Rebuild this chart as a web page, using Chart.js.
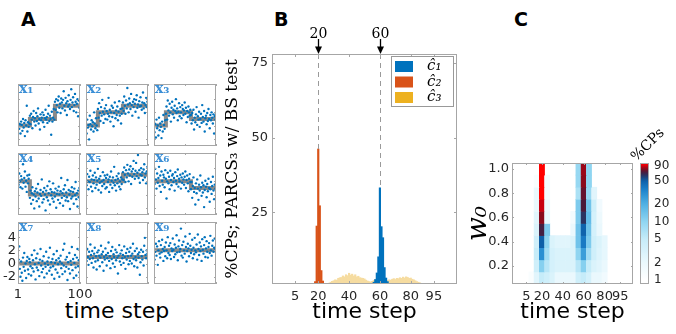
<!DOCTYPE html>
<html>
<head>
<meta charset="utf-8">
<title>change points</title>
<script src="https://cdn.jsdelivr.net/npm/chart.js@4.4.1/dist/chart.umd.min.js"></script>
<style>
  html, body { margin: 0; padding: 0; background: #fff; }
  body { position: relative; width: 676px; height: 334px; overflow: hidden; }
  canvas { position: absolute; }
  .tag { position: absolute; font: bold 19px "DejaVu Sans", sans-serif; color: #000; }
  .xtitle { position: absolute; width: 200px; text-align: center; font: 22px "DejaVu Sans", sans-serif; line-height: 26px; color: #000; }
</style>
</head>
<body>
<div class="tag" style="left:21px; top:8px">A</div>
<div class="tag" style="left:274px; top:8px">B</div>
<div class="tag" style="left:514px; top:8px">C</div>
<div class="xtitle" style="left:17px; top:298px">time step</div>
<script>
// ---------- panel A : observed series x1..x9 (time steps 1..100)
const x1Obs = [
  2.1, 0.3, -0.5, 0.2, -1.2, 0.6, 0.1, -0.8, 1.0, -0.3,
  0.4, -1.6, 0.8, 0.0, 3.0, -0.9, 0.5, -0.2, 0.3, 1.5,
  0.2, 1.8, 0.9, -0.4, 1.3, 2.2, 0.6, 1.1, 0.0, 1.9,
  0.7, 1.4, 2.6, 0.3, 1.0, -0.6, 1.7, 0.8, 1.2, 2.0,
  0.5, 1.6, -0.2, 1.1, 2.4, 0.9, 1.3, 0.4, 1.8, 3.0,
  0.7, 1.5, 1.0, -1.4, 2.1, 0.6, 1.2, 2.5, 0.9, 3.6,
  2.4, 4.0, 3.1, 2.0, 3.8, 4.4, 2.7, 3.3, 1.9, 4.1,
  3.5, 2.6, 3.9, 5.2, 3.0, 2.3, 4.2, 3.4, 1.6, 3.7,
  2.9, 4.6, 3.2, 2.5, 3.9, 5.5, 2.8, 3.5, 4.3, 2.2,
  3.1, 4.8, 3.6, 2.0, 3.3, 4.0, 1.4, 3.8, 2.7, 3.4];
const x2Obs = [
  0.4, -1.2, 0.9, -0.3, 0.1, -2.1, 1.5, 0.2, -0.6, 0.8,
  -0.1, 0.5, -0.9, 2.0, 0.3, -0.4, 1.1, 0.0, -0.7, 2.5,
  1.2, 3.4, 1.9, 0.7, 2.8, 1.5, 3.9, 2.1, 0.4, 1.7,
  2.6, 1.0, 3.1, 2.2, 0.9, 1.8, 4.2, 1.4, 2.4, 0.6,
  2.0, 3.0, 1.3, 2.7, -0.1, 1.9, 3.5, 1.1, 2.3, 1.6,
  2.9, 0.8, 2.1, 3.7, 1.5, 2.5, 0.3, 1.8, 2.6, 3.5,
  2.2, 4.4, 3.0, 1.8, 3.8, 2.6, 5.7, 3.2, 2.0, 4.1,
  3.4, 2.5, 4.8, 3.1, 1.5, 3.6, 2.8, 4.0, 3.3, 2.1,
  3.9, 4.6, 2.7, 3.2, 1.2, 3.7, 2.9, 4.3, 3.0, 2.4,
  3.5, 5.0, 2.6, 3.4, 1.9, 3.1, 4.2, 2.8, 3.6, 3.0];
const x3Obs = [
  0.5, -1.0, 0.2, -1.8, 0.9, -0.4, 0.0, -1.5, 1.2, -0.7,
  0.3, -0.2, -1.9, 0.6, -0.9, 1.6, 0.1, -0.5, 0.8, 1.8,
  2.9, 0.9, 3.8, 2.3, 1.5, 3.3, 2.0, 0.6, 2.7, 3.6,
  1.7, 2.4, 1.2, 3.0, 2.2, 4.0, 1.9, 2.6, 0.8, 2.1,
  3.4, 1.4, 2.8, 2.0, 1.1, 3.1, 2.5, 1.6, 2.3, 3.5,
  1.8, 2.7, 0.5, 2.2, 1.3, 2.9, 2.0, 1.5, 2.4, 1.6,
  0.3, 1.9, 0.8, 2.4, -0.6, 1.2, 0.5, 1.7, 2.8, 0.1,
  1.4, 0.9, 2.1, -0.2, 1.0, 1.8, 0.4, 3.1, 1.3, 0.6,
  2.2, -0.9, 1.1, 1.5, 0.2, 1.9, 0.7, 2.5, 1.0, -0.4,
  1.6, 0.8, 2.0, 1.2, 0.3, 1.7, -1.2, 1.4, 0.9, 1.8];
const x4Obs = [
  2.6, 1.5, 3.2, 2.0, 1.1, 2.8, 2.3, 0.9, 4.6, 1.8,
  2.5, 3.5, 1.2, 2.1, 0.4, 2.9, 1.7, 2.4, 3.0, -0.5,
  0.6, -1.4, 0.2, 1.1, -0.8, 0.0, -2.1, 0.5, -0.3, 0.9,
  -1.0, 0.3, 1.6, -0.6, -1.8, 0.1, 0.7, -0.2, 2.3, -1.2,
  0.4, -0.7, 1.0, 0.0, -2.4, 0.6, -0.4, 1.3, -0.9, 0.2,
  2.0, -1.5, 0.8, -0.1, 0.4, -0.6, 1.7, -1.1, 0.3, -0.3,
  0.9, -2.0, 0.1, 0.6, -0.8, 1.2, 0.0, -1.3, 0.5, 2.5,
  -0.5, 0.2, -1.7, 0.8, -0.2, 1.4, -0.9, 0.3, -0.4, 2.2,
  -1.0, 0.7, 0.0, -2.2, 0.5, -0.6, 1.1, -0.3, 0.4, -1.4,
  0.9, -0.1, 1.9, -0.7, 0.2, -1.8, 0.6, -0.4, 1.0, -0.9];
const x5Obs = [
  2.5, 1.4, 3.1, 2.0, 0.8, 2.7, 1.9, 3.6, 1.2, 2.3,
  0.5, 2.9, 1.7, 2.2, 3.3, 1.0, 2.6, 1.5, 2.1, 3.9,
  0.7, 2.4, 1.8, 2.8, 0.3, 2.0, 1.3, 3.4, 2.2, 1.6,
  2.9, 0.9, 2.5, 1.1, 3.0, 1.9, 2.3, 0.4, 2.7, 1.5,
  3.5, 2.1, 1.0, 2.6, 1.8, 4.2, 1.4, 2.2, 0.6, 2.8,
  1.7, 2.4, 3.2, 1.2, 2.0, 0.8, 2.6, 1.6, 2.3, 3.4,
  2.2, 4.1, 3.0, 1.9, 3.7, 2.6, 4.5, 3.2, 2.0, 3.8,
  2.9, 4.3, 1.6, 3.5, 2.7, 3.9, 5.1, 3.1, 2.4, 3.6,
  4.8, 2.8, 3.3, 6.0, 2.5, 3.7, 1.8, 3.0, 4.0, 2.9,
  3.4, 2.2, 3.8, 4.6, 2.6, 3.2, 1.7, 3.5, 4.2, 3.6];
const x6Obs = [
  2.8, 1.6, 3.9, 2.3, 0.9, 3.2, 1.8, 2.5, 4.2, 1.3,
  2.9, 0.4, 3.5, 2.1, 1.5, 3.0, 2.6, 1.1, 3.7, 2.4,
  -0.6, 2.0, 3.3, 1.7, 2.7, 0.8, 3.6, 2.2, 1.4, 2.9,
  3.1, 1.9, 2.5, 0.6, 3.4, 2.1, 1.6, 2.8, 3.8, 1.2,
  2.4, 2.0, 3.0, 0.9, 2.6, 1.8, 3.2, 2.3, 1.5, 2.7,
  3.5, 1.0, 2.2, 2.9, 1.7, 0.5, 2.4, 3.1, 1.9, 0.8,
  1.9, -0.5, 1.3, 2.6, 0.4, 1.0, -1.5, 1.7, 0.2, 2.3,
  0.9, -0.8, 1.5, 0.6, 2.9, 1.1, -0.2, 1.8, 0.3, 1.4,
  -1.9, 0.7, 2.1, 1.2, -0.4, 1.6, 0.5, 2.4, 1.0, -1.1,
  0.8, 1.9, 0.1, 1.3, 2.7, 0.6, -0.7, 1.5, 0.9, 2.0];
const x7Obs = [
  1.2, 0.6, 2.6, -0.8, -2.0, 0.3, -1.4, -2.6, 0.9, -0.5,
  1.6, -1.1, 0.0, -2.2, 0.4, 1.0, -0.9, -1.6, 0.7, 0.2,
  -0.4, -1.8, 1.3, -0.7, 0.5, -1.2, 2.0, -0.1, -2.4, 0.8,
  -0.6, 1.5, -1.0, 0.1, -1.9, 0.6, 2.2, -0.3, -1.3, 0.4,
  -0.8, 1.1, -2.1, 0.0, -0.5, 1.8, -1.5, 0.3, -0.2, 0.9,
  -1.1, 2.4, -0.6, 0.2, -1.7, 0.7, -0.4, 1.4, -2.3, 0.1,
  -0.9, 0.5, 1.9, -1.4, -0.1, 0.8, -2.0, 0.3, 1.2, -0.7,
  0.0, -1.6, 2.1, -0.3, 3.0, -1.2, 0.6, -0.5, 1.0, -2.5,
  0.2, -0.8, 1.6, -1.5, 0.4, -0.2, 2.5, -1.0, 0.7, -2.2,
  0.1, 1.3, -0.6, -1.8, 0.9, 2.2, -0.4, 0.5, -1.3, 0.0];
const x8Obs = [
  1.6, 0.4, 2.2, 1.0, -0.2, 1.8, 0.7, 2.9, 1.3, 0.1,
  1.9, 0.8, -0.6, 1.5, 2.4, 0.3, 1.1, -0.9, 1.7, 0.5,
  2.0, 1.2, -0.4, 0.9, 2.7, 1.4, 0.2, 1.8, -1.1, 1.0,
  0.6, 2.3, 1.3, -0.3, 0.8, 1.6, 3.2, 0.4, 1.1, -0.7,
  1.9, 0.7, 2.5, 0.0, 1.4, 1.0, -0.5, 2.1, 0.5, 1.7,
  0.9, -1.5, 1.2, 2.8, 0.3, 1.5, -0.2, 2.0, 0.8, 1.3,
  0.1, 2.6, 1.0, -0.8, 1.6, 0.6, 2.2, 1.1, -0.1, 1.8,
  0.4, 2.4, 1.2, 0.0, 1.5, 3.0, 0.7, -0.4, 1.9, 1.0,
  0.5, 2.3, -0.6, 1.4, 0.9, 1.7, -1.7, 0.2, 2.1, 1.1,
  0.6, 1.8, -0.3, 2.7, 3.9, 1.3, 0.8, 2.0, 1.5, 1.0];
const x9Obs = [
  2.4, 0.6, 1.8, 3.0, 1.2, 2.6, -0.2, 2.0, 3.4, 1.5,
  0.9, 2.8, 1.7, 3.6, 2.2, 0.4, 1.9, 2.5, 1.1, 3.2,
  2.0, 0.8, 4.0, 1.6, 2.7, 1.3, 3.1, 0.7, 2.3, 1.9,
  3.8, 2.1, 1.0, 2.9, 1.4, 2.4, 4.3, 1.7, 0.5, 2.6,
  3.5, 1.8, 2.2, 5.3, 1.2, 2.8, 0.9, 3.3, 2.0, 1.5,
  4.1, 2.5, 0.3, 1.9, 3.0, 2.3, 1.1, 4.5, 2.7, 1.6,
  2.1, 3.6, 0.8, 2.4, 1.4, 3.9, 2.0, 1.7, 2.9, 0.6,
  4.4, 2.2, 1.3, 3.2, 1.9, 2.6, 0.4, 3.7, 2.1, 1.5,
  2.8, 4.0, 1.0, 2.3, 3.4, 1.8, 0.9, 2.5, 3.1, 1.6,
  4.2, 2.0, 1.2, 2.7, 3.5, 1.8, 2.4, 3.8, 2.2, 1.9];

// true means: segments start at 1, 20, 60 and end at 100
const stepTimes = [1, 20, 60, 100];
const x1Steps = [0, 1, 3];
const x2Steps = [0, 2, 3];
const x3Steps = [0, 2, 1];
const x4Steps = [2, 0, 0];
const x5Steps = [2, 2, 3];
const x6Steps = [2, 2, 1];
const x7Steps = [0, 0, 0];
const x8Steps = [1, 1, 1];
const x9Steps = [2, 2, 2];
const seriesNames = ['x₁', 'x₂', 'x₃', 'x₄', 'x₅', 'x₆', 'x₇', 'x₈', 'x₉'];
const obsSeries = [x1Obs, x2Obs, x3Obs, x4Obs, x5Obs, x6Obs, x7Obs, x8Obs, x9Obs];
const stepSeries = [x1Steps, x2Steps, x3Steps, x4Steps, x5Steps, x6Steps, x7Steps, x8Steps, x9Steps];
const aTicksX = [1, 50, 100];
const aTicksY = [-2, 0, 2, 4];

// ---------- panel B : % of detected change points per time step
const c1Times = [55, 56, 57, 58, 59, 60, 61, 62, 63, 64, 65, 66];
const c1Pct   = [1.0, 1.6, 2.5, 4.7, 10.1, 33.2, 20.2, 16.5, 6.5, 3.0, 1.8, 1.2];
const c2Times = [17, 18, 19, 20, 21, 22, 23, 24];
const c2Pct   = [0.5, 1.8, 20.4, 46.2, 27.2, 5.5, 2.0, 1.0];
const c3Times = [24, 25, 26, 27, 28, 29, 30, 31, 32, 33, 34, 35, 36, 37, 38, 39, 40, 41, 42, 43, 44, 45,
  46, 47, 48, 49, 50, 51, 52, 53, 54, 55, 56, 57, 58, 59, 60, 61, 62, 63, 64, 65, 66, 67,
  68, 69, 70, 71, 72, 73, 74, 75, 76, 77, 78, 79, 80, 81, 82, 83, 84, 85, 86, 87, 88, 89, 90];
const c3Pct = [0.5, 0.8, 1.0, 1.3, 1.6, 1.9, 2.1, 2.4, 2.3, 2.9, 3.1, 3.2, 3.7, 3.4, 4.1, 3.8, 4.6, 4.0, 4.3, 3.7, 4.1, 3.4,
  3.6, 3.1, 3.0, 2.9, 2.7, 2.3, 2.0, 1.8, 1.7, 1.9, 2.2, 2.5, 2.8, 3.0, 3.1, 3.0, 2.8, 2.5, 2.1, 2.2, 2.4, 2.3,
  2.6, 2.8, 2.5, 2.9, 2.8, 3.1, 2.9, 3.3, 3.0, 3.4, 3.2, 2.9, 3.0, 2.6, 2.4, 2.1, 1.8, 1.6, 1.4, 1.2, 1.0, 0.8, 0.5];
const markTimes = [20, 60];
const timeTicks = [5, 20, 40, 60, 80, 95];
const bTicksY = [25, 50, 75];

// ---------- panel C : % CPs per (time step, w0)
const heatTimes = [5, 10, 15, 20, 25, 30, 35, 40, 45, 50, 55, 60, 65, 70, 75, 80, 85, 90, 95];
const heatW0 = [0.1, 0.2, 0.3, 0.4, 0.5, 0.6, 0.7, 0.8, 0.9, 1.0];
const heatPct = [
  [0, 1.2, 2.5, 5, 4, 3, 2, 2, 2, 2, 4, 5, 3.5, 2, 2, 1.6, 0, 0, 0],
  [0, 0, 4, 11, 6, 3.5, 3, 3, 3, 3, 6, 11, 5, 3, 2.5, 2, 0, 0, 0],
  [0, 0, 5, 30, 8, 3.5, 3, 3, 3, 3, 10, 25, 8, 4, 2.8, 2.2, 0, 0, 0],
  [0, 0, 4, 50, 10, 3, 2.5, 2.5, 2.5, 3, 14, 38, 12, 4, 3, 2.2, 0, 0, 0],
  [0, 0, 3, 68, 12, 0, 0, 0, 0, 2, 14, 48, 14, 3.5, 2, 0, 0, 0, 0],
  [0, 0, 2.5, 80, 2, 0, 0, 0, 0, 1.5, 12, 62, 16, 3.5, 1.8, 0, 0, 0, 0],
  [0, 0, 2, 88, 1.8, 0, 0, 0, 0, 0, 12, 70, 14, 4, 1.6, 0, 0, 0, 0],
  [0, 0, 2, 95, 1.5, 0, 0, 0, 0, 0, 7, 74, 9, 2.5, 0, 0, 0, 0, 0],
  [0, 0, 1.2, 95, 1.5, 0, 0, 0, 0, 0, 9, 80, 10, 0, 0, 0, 0, 0, 0],
  [0, 0, 0, 95, 0, 0, 0, 0, 0, 0, 9, 82, 10, 0, 0, 0, 0, 0, 0]];
const cTicksY = [0.2, 0.4, 0.6, 0.8, 1.0];
const cbTicks = [1, 2, 5, 10, 20, 50, 90];
const cbRange = [0.855, 100];

// colour map of the heat map (white -> light blue -> blue -> dark -> red)
const cmapStops = [[1, '#ffffff'], [2, '#eaf8fd'], [5, '#c6ecf9'], [10, '#8fd5f1'], [20, '#4fb0e3'],
  [35, '#1c82cb'], [50, '#0d5fa8'], [60, '#23386a'], [70, '#4a1a3a'], [80, '#8a0a1c'],
  [88, '#c80010'], [95, '#ff0000'], [100, '#ff0000']];

function hexRgb(h) {
  const n = parseInt(h.slice(1), 16);
  return [n >> 16, (n >> 8) & 255, n & 255];
}
function cmap(v) {
  if (v <= cmapStops[0][0]) return cmapStops[0][1];
  for (let i = 1; i < cmapStops.length; i++) {
    if (v <= cmapStops[i][0]) {
      const [v0, c0] = cmapStops[i - 1], [v1, c1] = cmapStops[i];
      const f = (Math.log(v) - Math.log(v0)) / (Math.log(v1) - Math.log(v0));
      const a = hexRgb(c0), b = hexRgb(c1);
      return 'rgb(' + a.map((x, k) => Math.round(x + (b[k] - x) * f)).join(',') + ')';
    }
  }
  return cmapStops[cmapStops.length - 1][1];
}

Chart.defaults.font.family = '"DejaVu Sans", sans-serif';
Chart.defaults.color = '#262626';

// box round the plot area with small inward ticks (matlab look)
const frameTicks = {
  id: 'frameTicks',
  afterDatasetsDraw(chart, args, o) {
    const {ctx, chartArea: a} = chart;
    ctx.save();
    ctx.strokeStyle = o.color || '#a0a0a0';
    ctx.lineWidth = 1;
    ctx.beginPath();
    const len = o.len || 3;
    ['x', 'y'].forEach(id => {
      const s = chart.scales[id];
      if (!s || s.type === 'category' || o.noTicks) return;
      s.ticks.forEach(t => {
        const p = Math.round(s.getPixelForValue(t.value)) + 0.5;
        if (id === 'x') {
          ctx.moveTo(p, a.bottom); ctx.lineTo(p, a.bottom - len);
          ctx.moveTo(p, a.top); ctx.lineTo(p, a.top + len);
        } else {
          ctx.moveTo(a.left, p); ctx.lineTo(a.left + len, p);
          ctx.moveTo(a.right, p); ctx.lineTo(a.right - len, p);
        }
      });
    });
    ctx.stroke();
    ctx.strokeRect(Math.round(a.left) + 0.5, Math.round(a.top) + 0.5, Math.round(a.width) - 1, Math.round(a.height) - 1);
    ctx.restore();
  }
};

const seriesTag = {
  id: 'seriesTag',
  afterDraw(chart, args, o) {
    const {ctx, chartArea: a} = chart;
    ctx.save();
    ctx.fillStyle = '#3b8fd6';
    ctx.font = 'bold 14px "DejaVu Serif"';
    ctx.textBaseline = 'alphabetic';
    ctx.fillText(o.text, a.left + 1, a.top + 9);
    ctx.restore();
  }
};

function fixBox(size, horiz) {
  return s => {
    if (horiz) s.height = size; else s.width = size;
    s.paddingLeft = s.paddingRight = s.paddingTop = s.paddingBottom = 0;
  };
}

function addCanvas(left, top, w, h) {
  const cv = document.createElement('canvas');
  cv.width = w; cv.height = h;
  cv.style.left = left + 'px';
  cv.style.top = top + 'px';
  document.body.appendChild(cv);
  return cv;
}

// ---------- panel A
const colLeft = [18, 86, 154], rowTop = [84, 153, 222], cellSize = 62;

function drawSeries(k) {
  const r = Math.floor(k / 3), c = k % 3;
  const padL = 30, padR = 16, padT = 4, padB = 20;
  const cv = addCanvas(colLeft[c] - padL, rowTop[r] - padT, padL + cellSize + padR, padT + cellSize + padB);
  const labelled = k === 6;
  const levels = stepSeries[k];
  new Chart(cv, {
    type: 'scatter',
    data: {
      datasets: [
        {
          type: 'line',
          data: stepTimes.map((t, i) => ({x: t, y: levels[Math.min(i, levels.length - 1)]})),
          stepped: 'before',
          borderColor: '#8a8a8a',
          borderWidth: 4,
          pointRadius: 0,
          order: 1
        },
        {
          data: obsSeries[k].map((v, i) => ({x: i + 1, y: v})),
          pointRadius: 1.2,
          pointBackgroundColor: '#0072BD',
          pointBorderWidth: 0,
          order: 0
        }
      ]
    },
    options: {
      responsive: false,
      animation: false,
      devicePixelRatio: 1,
      layout: {padding: {top: padT, right: padR}},
      plugins: {
        legend: {display: false},
        tooltip: {enabled: false},
        frameTicks: {color: '#a6a6a6', len: 2},
        seriesTag: {text: seriesNames[k]}
      },
      scales: {
        x: {
          type: 'linear', min: 1, max: 100,
          afterBuildTicks: s => { s.ticks = aTicksX.map(v => ({value: v})); },
          afterFit: fixBox(padB, true),
          grid: {display: false, drawTicks: false},
          border: {display: false},
          ticks: {display: labelled, padding: 3, font: {size: 13}, maxRotation: 0, autoSkip: false,
                  callback: v => (v === 50 ? '' : v)}
        },
        y: {
          min: -3.1, max: 6.3,
          afterBuildTicks: s => { s.ticks = aTicksY.map(v => ({value: v})); },
          afterFit: fixBox(padL, false),
          grid: {display: false, drawTicks: false},
          border: {display: false},
          ticks: {display: labelled, padding: 2, font: {size: 13}}
        }
      }
    },
    plugins: [frameTicks, seriesTag]
  });
}
for (let k = 0; k < 9; k++) drawSeries(k);

// ---------- panel B
const bMarks = {
  id: 'bMarks',
  afterDatasetsDraw(chart) {
    const {ctx, chartArea: a, scales: {x, y}} = chart;
    ctx.save();
    markTimes.forEach(t => {
      const px = Math.round(x.getPixelForValue(t)) + 0.5;
      let peak = 0;
      chart.data.datasets.forEach(ds => ds.data.forEach(p => { if (p.x === t) peak = Math.max(peak, p.y); }));
      ctx.strokeStyle = '#9a9a9a';
      ctx.lineWidth = 1;
      ctx.setLineDash([5, 4]);
      ctx.beginPath();
      ctx.moveTo(px, a.top);
      ctx.lineTo(px, y.getPixelForValue(peak));
      ctx.stroke();
      ctx.setLineDash([]);
      ctx.strokeStyle = '#000';
      ctx.lineWidth = 1.3;
      ctx.beginPath();
      ctx.moveTo(px, a.top - 15);
      ctx.lineTo(px, a.top - 6);
      ctx.stroke();
      ctx.fillStyle = '#000';
      ctx.beginPath();
      ctx.moveTo(px - 3.5, a.top - 7.5);
      ctx.lineTo(px + 3.5, a.top - 7.5);
      ctx.lineTo(px, a.top);
      ctx.closePath();
      ctx.fill();
      ctx.font = '14px "DejaVu Serif"';
      ctx.textAlign = 'center';
      ctx.textBaseline = 'middle';
      ctx.fillText(String(t), px, a.top - 20);
    });
    ctx.restore();
  }
};

const bLegend = {
  id: 'bLegend',
  afterDatasetsDraw(chart) {
    const {ctx, chartArea: a} = chart;
    const w = 63, h = 51, x0 = a.right - w - 3, y0 = a.top + 2;
    ctx.save();
    ctx.fillStyle = '#fff';
    ctx.fillRect(x0, y0, w, h);
    ctx.strokeStyle = '#999';
    ctx.lineWidth = 1;
    ctx.strokeRect(x0 + 0.5, y0 + 0.5, w - 1, h - 1);
    chart.data.datasets.forEach((ds, i) => {
      const cy = y0 + 10.5 + i * 15.5;
      ctx.fillStyle = ds.legendColor;
      ctx.fillRect(x0 + 4, cy - 5.5, 18, 11);
      ctx.fillStyle = '#000';
      ctx.font = 'italic 15px "DejaVu Serif"';
      ctx.textBaseline = 'middle';
      ctx.fillText(ds.label, x0 + 36, cy);
    });
    ctx.restore();
  }
};

const cvB = addCanvas(222, 0, 248, 334);
new Chart(cvB, {
  type: 'bar',
  data: {
    datasets: [
      {label: 'ĉ₁', data: c1Times.map((t, i) => ({x: t, y: c1Pct[i]})), backgroundColor: '#0072BD', legendColor: '#0072BD', order: 1},
      {label: 'ĉ₂', data: c2Times.map((t, i) => ({x: t, y: c2Pct[i]})), backgroundColor: '#D95319', legendColor: '#D95319', order: 2},
      {label: 'ĉ₃', data: c3Times.map((t, i) => ({x: t, y: c3Pct[i]})), backgroundColor: '#f6dca0', legendColor: '#EDB120', order: 3}
    ]
  },
  options: {
    responsive: false,
    animation: false,
    devicePixelRatio: 1,
    layout: {padding: {top: 54, right: 13}},
    datasets: {bar: {grouped: false, barPercentage: 1, categoryPercentage: 1, borderWidth: 0, clip: 0}},
    plugins: {
      legend: {display: false},
      tooltip: {enabled: false},
      frameTicks: {color: '#a6a6a6', len: 3}
    },
    scales: {
      x: {
        type: 'linear', min: 0, max: 100,
        afterBuildTicks: s => { s.ticks = timeTicks.map(v => ({value: v})); },
        afterFit: fixBox(50, true),
        grid: {display: false, drawTicks: false},
        border: {display: false},
        ticks: {padding: 5, font: {size: 13}, maxRotation: 0, autoSkip: false},
        title: {display: true, text: 'time step', color: '#000', font: {size: 22}, padding: {top: 0, bottom: 9}}
      },
      y: {
        min: 1, max: 78,
        afterBuildTicks: s => { s.ticks = bTicksY.map(v => ({value: v})); },
        afterFit: fixBox(50, false),
        grid: {display: false, drawTicks: false},
        border: {display: false},
        ticks: {padding: 4, font: {size: 13}},
        title: {display: true, text: '%CPs; PARCS₃ w/ BS test', color: '#000',
                font: {size: 17, family: '"DejaVu Serif", serif'}, padding: {top: 0, bottom: 0}}
      }
    }
  },
  plugins: [bMarks, frameTicks, bLegend]
});

// ---------- panel C
const cells = [];
heatW0.forEach((w, r) => heatTimes.forEach((t, c) => {
  const v = heatPct[r][c];
  if (v > 0) cells.push({x: t, y: [w - 0.05, w + 0.05], v: v});
}));

const cvC = addCanvas(455, 150, 180, 184);
new Chart(cvC, {
  type: 'bar',
  data: {
    datasets: [{
      data: cells,
      backgroundColor: c => (c.raw ? cmap(c.raw.v) : '#fff'),
      borderWidth: 0,
      barPercentage: 1,
      categoryPercentage: 1,
      clip: 0
    }]
  },
  options: {
    responsive: false,
    animation: false,
    devicePixelRatio: 1,
    layout: {padding: {top: 13, right: 2}},
    plugins: {
      legend: {display: false},
      tooltip: {enabled: false},
      frameTicks: {color: '#a6a6a6', len: 2}
    },
    scales: {
      x: {
        type: 'linear', min: 1, max: 97.5,
        afterBuildTicks: s => { s.ticks = timeTicks.map(v => ({value: v})); },
        afterFit: fixBox(50, true),
        grid: {display: false, drawTicks: false},
        border: {display: false},
        ticks: {padding: 5, font: {size: 13}, maxRotation: 0, autoSkip: false},
        title: {display: true, text: 'time step', color: '#000', font: {size: 22}, padding: {top: 0, bottom: 9}}
      },
      y: {
        min: 0.05, max: 1.05,
        afterBuildTicks: s => { s.ticks = cTicksY.map(v => ({value: v})); },
        afterFit: fixBox(57, false),
        grid: {display: false, drawTicks: false},
        border: {display: false},
        ticks: {padding: 3, font: {size: 13}, callback: v => Number(v).toFixed(1)},
        title: {display: true, text: 'w₀', color: '#000',
                font: {size: 28, family: '"DejaVu Serif", serif', style: 'italic'}, padding: {top: 7, bottom: 0}}
      }
    }
  },
  plugins: [frameTicks]
});

// colour bar
const cbLabel = {
  id: 'cbLabel',
  afterDraw(chart) {
    const ctx = chart.ctx;
    ctx.save();
    ctx.translate(20, 27);
    ctx.rotate(-Math.PI / 4);
    ctx.font = '14px "DejaVu Serif"';
    ctx.fillStyle = '#000';
    ctx.textAlign = 'center';
    ctx.textBaseline = 'middle';
    ctx.fillText('%CPs', 0, 0);
    ctx.restore();
  }
};

const cvBar = addCanvas(628, 118, 48, 170);
new Chart(cvBar, {
  type: 'bar',
  data: {
    labels: ['%CPs'],
    datasets: [{
      data: [cbRange],
      borderWidth: 0,
      barPercentage: 1,
      categoryPercentage: 1,
      backgroundColor: c => {
        const chart = c.chart, s = chart.scales.y;
        if (!s || !chart.chartArea) return '#fff';
        const g = chart.ctx.createLinearGradient(0, s.getPixelForValue(cbRange[0]), 0, s.getPixelForValue(cbRange[1]));
        for (let i = 0; i <= 60; i++) {
          g.addColorStop(i / 60, cmap(cbRange[0] * Math.pow(cbRange[1] / cbRange[0], i / 60)));
        }
        return g;
      }
    }]
  },
  options: {
    responsive: false,
    animation: false,
    devicePixelRatio: 1,
    layout: {padding: {left: 12, top: 45, bottom: 4}},
    plugins: {
      legend: {display: false},
      tooltip: {enabled: false},
      frameTicks: {color: '#a6a6a6', noTicks: true}
    },
    scales: {
      x: {display: false},
      y: {
        type: 'logarithmic', position: 'right', min: cbRange[0], max: cbRange[1],
        afterBuildTicks: s => { s.ticks = cbTicks.map(v => ({value: v})); },
        afterFit: fixBox(27, false),
        grid: {display: false, drawTicks: false},
        border: {display: false},
        ticks: {padding: 5, font: {size: 12}, callback: v => String(v)}
      }
    }
  },
  plugins: [frameTicks, cbLabel]
});
</script>
</body>
</html>
